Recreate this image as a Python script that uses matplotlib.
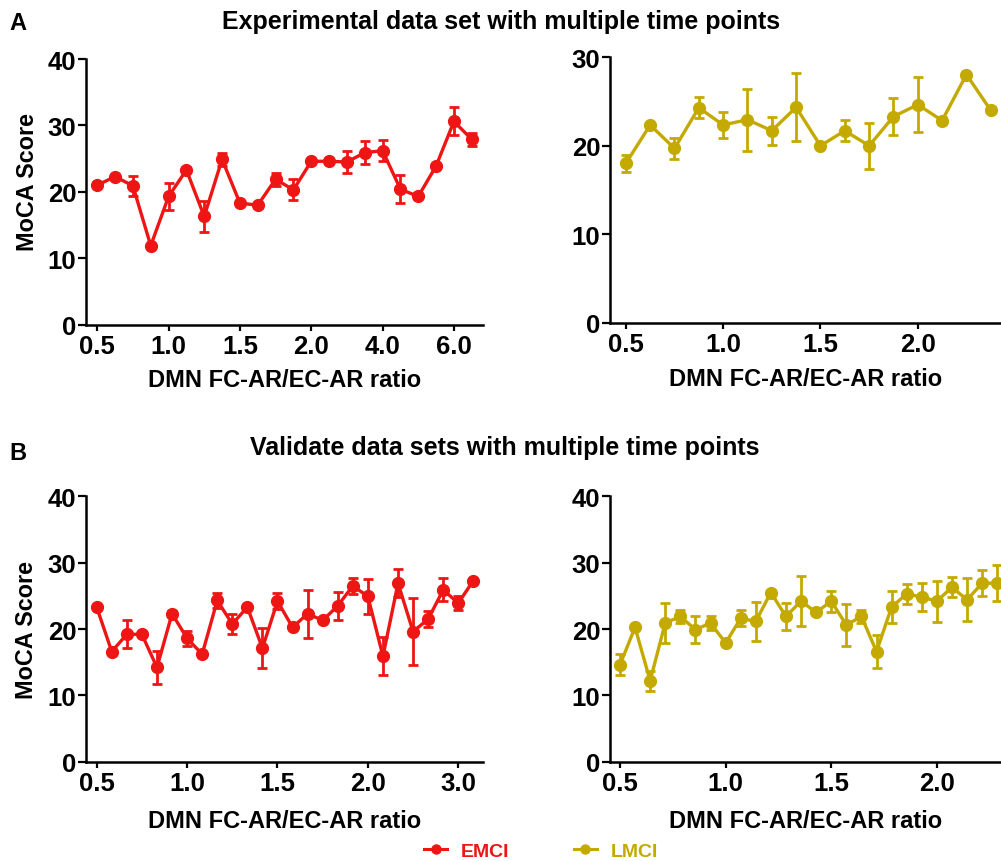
import numpy as np
import matplotlib
matplotlib.use("Agg")
import matplotlib.pyplot as plt
from matplotlib.lines import Line2D

plt.rcParams['font.family'] = ['Liberation Sans', 'DejaVu Sans']
plt.rcParams['font.weight'] = 'bold'

RED = '#EE1515'
OLIVE = '#C4AA00'

# ---- Panel A (experimental) ----
a_emci_y = [21.0, 22.3, 20.9, 11.9, 19.3, 23.3, 16.3, 24.9, 18.3, 18.0, 21.9,
            20.3, 24.6, 24.6, 24.5, 25.9, 26.2, 20.4, 19.3, 23.9, 30.6, 27.9]
a_emci_err = [0.0, 0.0, 1.5, 0.0, 2.1, 0.3, 2.3, 1.0, 0.3, 0.0, 1.0,
              1.6, 0.3, 0.3, 1.6, 1.75, 1.6, 2.1, 0.3, 0.0, 2.1, 1.0]
a_emci_ticklabels = ['0.5', '1.0', '1.5', '2.0', '4.0', '6.0']
a_emci_tickpos = [0, 4, 8, 12, 16, 20]

a_lmci_y = [18.0, 22.35, 19.7, 24.3, 22.35, 22.95, 21.7, 24.35, 20.0, 21.7,
            20.0, 23.3, 24.65, 22.85, 28.05, 24.0]
a_lmci_err = [1.0, 0.0, 1.2, 1.2, 1.5, 3.5, 1.6, 3.85, 0.0, 1.2,
              2.6, 2.1, 3.1, 0.4, 0.0, 0.0]
a_lmci_ticklabels = ['0.5', '1.0', '1.5', '2.0']
a_lmci_tickpos = [0, 4, 8, 12]

# ---- Panel B (validation) ----
b_emci_y = [23.3, 16.6, 19.2, 19.2, 14.2, 22.3, 18.6, 16.2, 24.3, 20.75, 23.3,
            17.1, 24.2, 20.25, 22.3, 21.3, 23.5, 26.5, 24.9, 15.9, 26.9, 19.6,
            21.5, 25.9, 23.9, 27.3]
b_emci_err = [0.0, 0.3, 2.1, 0.3, 2.5, 0.4, 1.15, 0.3, 1.15, 1.5, 0.3,
              3.05, 1.2, 0.3, 3.6, 0.3, 2.1, 1.15, 2.7, 2.85, 2.1, 5.1,
              1.15, 1.75, 1.0, 0.3]
b_emci_ticklabels = ['0.5', '1.0', '1.5', '2.0', '3.0']
b_emci_tickpos = [0, 6, 12, 18, 24]

b_lmci_y = [14.6, 20.25, 12.2, 20.9, 21.9, 19.9, 20.9, 17.9, 21.6, 21.15, 25.5,
            21.9, 24.2, 22.5, 24.2, 20.6, 21.9, 16.6, 23.3, 25.3, 24.8, 24.2,
            26.3, 24.4, 26.9, 26.9]
b_lmci_err = [1.6, 0.0, 1.5, 3.0, 1.0, 2.05, 1.0, 0.0, 1.2, 2.95, 0.3,
              2.0, 3.8, 0.3, 1.6, 3.2, 1.0, 2.5, 2.45, 1.5, 2.1, 3.1,
              1.5, 3.25, 2.0, 2.75]
b_lmci_ticklabels = ['0.5', '1.0', '1.5', '2.0']
b_lmci_tickpos = [0, 7, 14, 21]

W, H = 1001, 862
fig = plt.figure(figsize=(W / 100, H / 100), dpi=100)


def add_ax(left, right, top, bottom):
    return fig.add_axes([left / W, (H - bottom) / H, (right - left) / W, (bottom - top) / H])


def panel(ax, y, err, color, tickpos, ticklabels, xlim, ymax, xlab_y, ylab_frac=None):
    x = np.arange(len(y))
    ax.errorbar(x, y, yerr=err, color=color, marker='o', markersize=8.5,
                linewidth=2.4, elinewidth=2.0, capsize=3.8, capthick=2.0,
                clip_on=False)
    ax.set_xlim(*xlim)
    ax.set_ylim(0, ymax)
    ax.set_yticks(np.arange(0, ymax + 1, 10))
    ax.set_xticks(tickpos)
    ax.set_xticklabels(ticklabels)
    for s in ['top', 'right']:
        ax.spines[s].set_visible(False)
    for s in ['left', 'bottom']:
        ax.spines[s].set_linewidth(1.8)
    ax.tick_params(axis='y', direction='out', length=6, width=1.6, labelsize=18.5, pad=1)
    ax.tick_params(axis='x', direction='out', length=4, width=1.6, labelsize=18.5, pad=3)
    for lab in ax.get_xticklabels() + ax.get_yticklabels():
        lab.set_fontweight('bold')
    bbox = ax.get_position()
    ax_h_px = bbox.height * H
    ax_w_px = bbox.width * W
    ax.set_xlabel('DMN FC-AR/EC-AR ratio', fontsize=17, fontweight='bold')
    ax.xaxis.set_label_coords(0.5, -xlab_y / ax_h_px)
    ax.xaxis.label.set_va('center')
    if ylab_frac is not None:
        ax.set_ylabel('MoCA Score', fontsize=16.8, fontweight='bold')
        ax.yaxis.set_label_coords(-(86 - 27) / ax_w_px, ylab_frac)
        ax.yaxis.label.set_va('center')


ax1 = add_ax(86, 483, 60, 325.7)
panel(ax1, a_emci_y, a_emci_err, RED, a_emci_tickpos, a_emci_ticklabels, (-0.63, 21.63), 40,
      381 - 325.7, ylab_frac=(325.7 - 182) / 265.7)

ax2 = add_ax(610, 1001, 58.3, 323.7)
panel(ax2, a_lmci_y, a_lmci_err, OLIVE, a_lmci_tickpos, a_lmci_ticklabels, (-0.65, 15.42), 30,
      379 - 323.7)

ax3 = add_ax(86, 483.3, 497.3, 762.7)
panel(ax3, b_emci_y, b_emci_err, RED, b_emci_tickpos, b_emci_ticklabels, (-0.71, 25.66), 40,
      822 - 762.7, ylab_frac=0.5)

ax4 = add_ax(610, 1001, 497.3, 762.7)
panel(ax4, b_lmci_y, b_lmci_err, OLIVE, b_lmci_tickpos, b_lmci_ticklabels, (-0.66, 25.25), 40,
      822 - 762.7)

fig.text(501 / W, 1 - 22 / H, 'Experimental data set with multiple time points',
         ha='center', va='center', fontsize=18, fontweight='bold')
fig.text(505 / W, 1 - 448 / H, 'Validate data sets with multiple time points',
         ha='center', va='center', fontsize=18, fontweight='bold')
fig.text(9 / W, 1 - 23.5 / H, 'A', ha='left', va='center', fontsize=17, fontweight='bold')
fig.text(9 / W, 1 - 454 / H, 'B', ha='left', va='center', fontsize=17, fontweight='bold')

handles = [Line2D([], [], color=RED, marker='o', markersize=6.5, linewidth=2.2),
           Line2D([], [], color=OLIVE, marker='o', markersize=6.5, linewidth=2.2)]
fig.legend(handles, ['EMCI', 'LMCI'], loc='center', bbox_to_anchor=(541 / W, 1 - 852 / H),
           ncol=2, frameon=False, labelcolor='linecolor', handlelength=1.2,
           handletextpad=0.7, columnspacing=3.3, prop={'weight': 'bold', 'size': 14})

fig.savefig('out.png', dpi=100)
